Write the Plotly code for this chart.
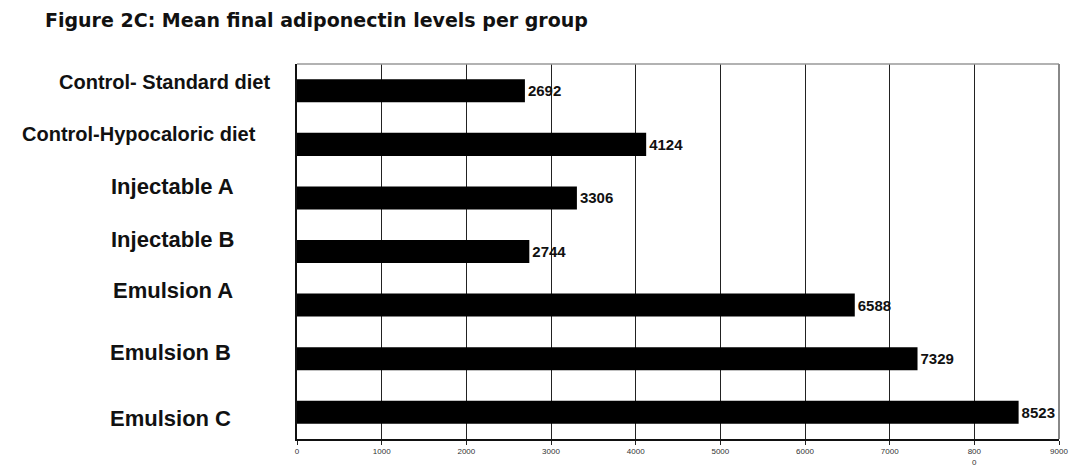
import plotly.graph_objects as go

categories = ["Control- Standard diet", "Control-Hypocaloric diet", "Injectable A",
              "Injectable B", "Emulsion A", "Emulsion B", "Emulsion C"]
values = [2692, 4124, 3306, 2744, 6588, 7329, 8523]
tick_vals = [0, 1000, 2000, 3000, 4000, 5000, 6000, 7000, 8000, 9000]
tick_text = ["0", "1000", "2000", "3000", "4000", "5000", "6000", "7000", "800<br>0", "9000"]

W, H = 1069, 468
L, R, T, B = 297, 10, 64, 29
PW = W - L - R

# label styling: (right edge px, vertical shift px, font size)
label_style = [(272, 9, 20), (258, 10, 20), (236, 11, 22), (236, 12, 22),
               (235, 15, 22), (233, 6, 22), (233, -6, 22)]

fig = go.Figure()
fig.add_trace(go.Bar(
    x=values, y=categories, orientation="h",
    marker=dict(color="black", line=dict(width=0)),
    width=0.43,
    text=["<b>%d</b>" % v for v in values], textposition="outside",
    textfont=dict(family="Liberation Sans", size=15, color="#111"),
    constraintext="none", cliponaxis=False,
))

annotations = []
for cat, (rx, ys, fs) in zip(categories, label_style):
    annotations.append(dict(
        x=(rx - L) / PW, xref="paper", xanchor="right",
        y=cat, yref="y", yanchor="middle", yshift=ys,
        text="<b>%s</b>" % cat, showarrow=False,
        font=dict(family="Liberation Sans", size=fs, color="#111"),
    ))

fig.update_layout(
    width=W, height=H,
    margin=dict(l=L, r=R, t=T, b=B, autoexpand=False),
    paper_bgcolor="white", plot_bgcolor="white",
    showlegend=False,
    title=dict(text="<b>Figure 2C: Mean final adiponectin levels per group</b>",
               x=45 / W, xanchor="left", y=1 - 20 / H, yanchor="middle",
               font=dict(family="DejaVu Sans", size=19, color="#111")),
    annotations=annotations,
    xaxis=dict(range=[0, 9000], tickvals=tick_vals, ticktext=tick_text,
               showgrid=True, gridcolor="#222", gridwidth=1.2,
               showline=True, linecolor="#111", linewidth=1.5, mirror=False,
               ticks="outside", ticklen=4, tickcolor="#222",
               tickfont=dict(family="Liberation Sans", size=8, color="#333"),
               zeroline=False, fixedrange=True, automargin=False),
    yaxis=dict(autorange="reversed", showticklabels=False, ticks="",
               showline=True, linecolor="#111", linewidth=2,
               showgrid=False, zeroline=False, automargin=False),
    shapes=[
        dict(type="line", xref="paper", yref="paper", x0=0, x1=1, y0=1, y1=1,
             line=dict(color="#999", width=1.5)),
        dict(type="line", xref="paper", yref="paper", x0=1, x1=1, y0=0, y1=1,
             line=dict(color="#888", width=2)),
    ],
)

fig.write_html("out.html")
